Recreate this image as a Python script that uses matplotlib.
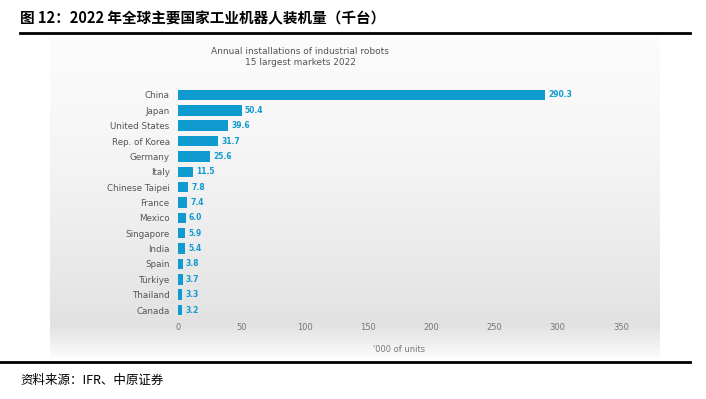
import numpy as np
import matplotlib.pyplot as plt

plt.rcParams['font.family'] = ['Noto Sans CJK SC', 'DejaVu Sans']

# datos
paises = ['China', 'Japan', 'United States', 'Rep. of Korea', 'Germany', 'Italy',
          'Chinese Taipei', 'France', 'Mexico', 'Singapore', 'India', 'Spain',
          'Türkiye', 'Thailand', 'Canada']
valores = [290.3, 50.4, 39.6, 31.7, 25.6, 11.5, 7.8, 7.4, 6.0, 5.9, 5.4, 3.8, 3.7, 3.3, 3.2]
ticks_x = [0, 50, 100, 150, 200, 250, 300, 350]

azul = '#0f9bd0'
W, H = 706, 399
fig = plt.figure(figsize=(W / 100, H / 100), dpi=100)

# fondo gris degradado del panel
bg = fig.add_axes([50 / W, 1 - 358 / H, 610 / W, 321 / H])
t = np.linspace(0, 1, 200)
gris = np.where(t < 0.9, 0.985 - 0.1 * (t / 0.9) ** 1.5, 0.885 + 0.1 * (t - 0.9) / 0.1)
img = np.repeat(gris[:, None, None], 3, axis=2)
bg.imshow(img, aspect='auto', extent=[0, 1, 0, 1], interpolation='bilinear')
bg.set_xlim(0, 1)
bg.set_ylim(0, 1)
bg.axis('off')

ax = fig.add_axes([178 / W, 1 - 317.7 / H, 443 / W, 230.4 / H])
ax.patch.set_alpha(0)
y = np.arange(len(paises))
ax.barh(y, valores, height=0.68, color=azul)
for yi, v in zip(y, valores):
    ax.text(v + 2.5, yi, f'{v:.1f}', va='center', ha='left', fontsize=5.5,
            color=azul, fontweight='bold', family='DejaVu Sans')
ax.set_ylim(len(paises) - 0.5, -0.5)
ax.set_xlim(0, 350)
ax.set_yticks(y)
ax.set_yticklabels(paises, fontsize=6.3, color='#555555', family='DejaVu Sans')
ax.set_xticks(ticks_x)
ax.set_xticklabels([str(v) for v in ticks_x], fontsize=6, color='#777777', family='DejaVu Sans')
ax.tick_params(length=0, axis='y', pad=6)
ax.tick_params(length=0, axis='x', pad=4)
for s in ax.spines.values():
    s.set_visible(False)
ax.set_xlabel("'000 of units", fontsize=6, color='#777777', labelpad=9, family='DejaVu Sans')

fig.text(300 / W, 1 - 57 / H, 'Annual installations of industrial robots\n15 largest markets 2022',
         ha='center', va='center', fontsize=6.5, color='#555555', linespacing=1.3,
         family='DejaVu Sans')

# encabezado y pie
fig.text(20 / W, 1 - 18 / H, '图 12：2022 年全球主要国家工业机器人装机量（千台）',
         fontsize=10.5, fontweight='bold', va='center', ha='left')
fig.add_artist(plt.Line2D([20 / W, 690 / W], [1 - 33 / H] * 2, color='black', lw=2))
fig.add_artist(plt.Line2D([0, 690 / W], [1 - 362 / H] * 2, color='black', lw=2))
fig.text(20 / W, 1 - 380 / H, '资料来源：IFR、中原证券', fontsize=9, va='center', ha='left')

fig.savefig('out.png', dpi=100)
